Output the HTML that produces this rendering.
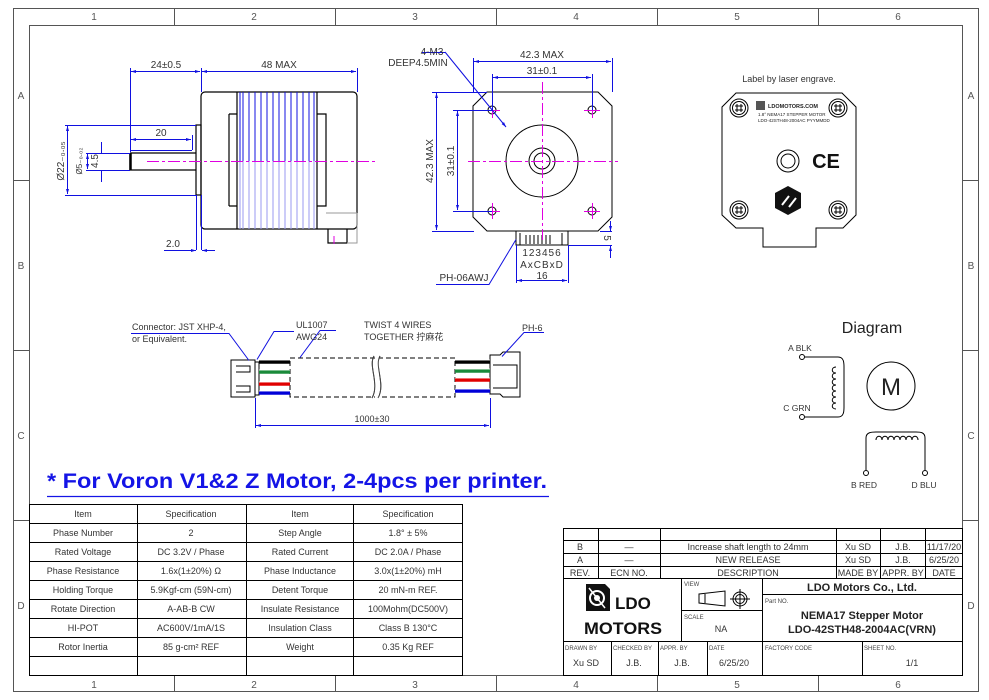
<!DOCTYPE html>
<html><head><meta charset="utf-8"><style>
html,body{margin:0;padding:0;background:#fff;}
svg{display:block;font-family:"Liberation Sans","Noto Sans CJK SC",sans-serif;}
</style></head><body>
<svg width="989" height="700" viewBox="0 0 989 700" xmlns="http://www.w3.org/2000/svg">
<defs>
<marker id="ar" viewBox="0 0 10 10" refX="10" refY="5" markerWidth="8" markerHeight="5" orient="auto-start-reverse"><path d="M0,2 L10,5 L0,8 z" fill="#1010e0"/></marker>
</defs>
<rect width="989" height="700" fill="#fff"/>
<!-- frame -->
<g fill="none" stroke="#555" stroke-width="1">
<rect x="13.5" y="8.5" width="965" height="683"/>
<rect x="29.5" y="25.5" width="933" height="650"/>
<path d="M174.5 8v17M335.5 8v17M496.5 8v17M657.5 8v17M818.5 8v17"/>
<path d="M174.5 676v16M335.5 676v16M496.5 676v16M657.5 676v16M818.5 676v16"/>
<path d="M13 180.5h16M13 350.5h16M13 520.5h16M963 180.5h16M963 350.5h16M963 520.5h16"/>
</g>
<g font-size="10" fill="#555" text-anchor="middle">
<text x="94" y="20">1</text><text x="254" y="20">2</text><text x="415" y="20">3</text><text x="576" y="20">4</text><text x="737" y="20">5</text><text x="898" y="20">6</text>
<text x="94" y="688">1</text><text x="254" y="688">2</text><text x="415" y="688">3</text><text x="576" y="688">4</text><text x="737" y="688">5</text><text x="898" y="688">6</text>
<text x="21" y="99">A</text><text x="21" y="269">B</text><text x="21" y="439">C</text><text x="21" y="609">D</text>
<text x="971" y="99">A</text><text x="971" y="269">B</text><text x="971" y="439">C</text><text x="971" y="609">D</text>
</g>

<!-- SIDE VIEW -->
<g fill="none" stroke="#000" stroke-width="1.2">
<rect x="201" y="92" width="156" height="137" rx="4"/>
<path d="M237 92v137M317 92v137M229 114h8M229 206h8M229 114v92M317 114h9v92h-9"/>
<rect x="196" y="125" width="5" height="70"/>
<path d="M130 153h66M130 170h66M130 153v17" />
<path d="M130.5 153v17" stroke-width="2.5"/>
<path d="M328 229v14h19v-14"/>
</g>
<path d="M326 213h31" stroke="#999" stroke-width="1"/>
<path d="M357 213v30h-10" stroke="#999" stroke-width="1" fill="none"/>
<g stroke="#1010e0" stroke-width="1">
<path d="M243 92v69M249 92v69M255 92v69M261 92v69M267 92v69M273 92v69M279 92v69M285 92v69M291 92v69M297 92v69M303 92v69M309 92v69M314 92v69M240 92v69"/>
</g>
<g stroke="#9a9af0" stroke-width="1">
<path d="M243 161v68M249 161v68M255 161v68M261 161v68M267 161v68M273 161v68M279 161v68M285 161v68M291 161v68M297 161v68M303 161v68M309 161v68M314 161v68M240 161v68"/>
</g>
<path d="M147 161.5h228" stroke="#e000e0" stroke-width="1" stroke-dasharray="12,3,3,3"/>
<path d="M334 236v8" stroke="#e000e0" stroke-width="1"/>
<!-- side dims -->
<g stroke="#1010e0" stroke-width="1" fill="none">
<path d="M130.5 68v84M201.5 68v24M357.5 68v24M201.5 195v55M196.5 195v55"/>
<path d="M131 71.5h69" marker-start="url(#ar)" marker-end="url(#ar)"/>
<path d="M202 71.5h154" marker-start="url(#ar)" marker-end="url(#ar)"/>
<path d="M131 139.5h60" marker-start="url(#ar)" marker-end="url(#ar)"/>
<path d="M192.5 135v15M130 150.5h62"/>
<path d="M65 125.5h131M65 195.5h131"/>
<path d="M67.5 126v68" marker-start="url(#ar)" marker-end="url(#ar)"/>
<path d="M86 153.5h44M86 170.5h44"/>
<path d="M87.5 154v15" marker-start="url(#ar)" marker-end="url(#ar)"/>
<path d="M101.5 142v11M101.5 170v12" />
<path d="M164 250.5h32" marker-end="url(#ar)"/>
<path d="M215 250.5h-13" marker-end="url(#ar)"/>
</g>
<g font-size="10" fill="#333" text-anchor="middle">
<text x="166" y="68">24±0.5</text>
<text x="279" y="68">48 MAX</text>
<text x="161" y="136">20</text>
<text x="173" y="247">2.0</text>
<text transform="translate(64,161) rotate(-90)">Ø22₋₀.₀₅</text>
<text transform="translate(82,161) rotate(-90)" font-size="8">Ø5₋₀.₀₂</text>
<text transform="translate(98,161) rotate(-90)">4.5</text>
</g>

<!-- FRONT VIEW -->
<g fill="none" stroke="#000" stroke-width="1">
<path d="M487 92h111l14 14v111l-14 14h-111l-14-14v-111z"/>
<circle cx="542" cy="161" r="36"/>
<circle cx="542" cy="161" r="13"/>
<circle cx="542" cy="161" r="8"/>
<circle cx="492" cy="110" r="4"/><circle cx="592" cy="110" r="4"/><circle cx="492" cy="211" r="4"/><circle cx="592" cy="211" r="4"/>
<rect x="516" y="231" width="52" height="14"/>
<path d="M520 233v12M526 235v9M530 235v9M534 235v9M538 235v9M542 235v9M546 235v9M550 235v9M562 233v12"/>
</g>
<g stroke="#e000e0" stroke-width="1">
<path d="M542.5 82v158" stroke-dasharray="12,3,3,3"/>
<path d="M468 161.5h150" stroke-dasharray="12,3,3,3"/>
<path d="M484 110.5h16M492.5 102v16M584 110.5h16M592.5 102v16M484 211.5h16M492.5 203v16M584 211.5h16M592.5 203v16"/>
</g>
<g stroke="#1010e0" stroke-width="1" fill="none">
<path d="M473.5 58v34M612.5 58v34M492.5 74v36M592.5 74v36"/>
<path d="M474 61.5h137" marker-start="url(#ar)" marker-end="url(#ar)"/>
<path d="M493 77.5h98" marker-start="url(#ar)" marker-end="url(#ar)"/>
<path d="M432 92.5h55M432 231.5h42M453 110.5h39M453 211.5h39"/>
<path d="M436.5 93v137" marker-start="url(#ar)" marker-end="url(#ar)"/>
<path d="M457.5 111v99" marker-start="url(#ar)" marker-end="url(#ar)"/>
<path d="M445 52l61 75" marker-end="url(#ar)"/>
<path d="M422 52.5h23"/>
<path d="M516.5 245v38M568.5 245v38"/>
<path d="M517 280.5h50" marker-start="url(#ar)" marker-end="url(#ar)"/>
<path d="M568 245.5h44M600 231.5h12"/>
<path d="M610.5 221v10" marker-end="url(#ar)"/>
<path d="M610.5 258v-12" marker-end="url(#ar)"/>
<path d="M436 284.5h53l27-45"/>
</g>
<g font-size="10" fill="#333" text-anchor="middle">
<text x="542" y="58">42.3 MAX</text>
<text x="542" y="74">31±0.1</text>
<text transform="translate(433,161) rotate(-90)">42.3 MAX</text>
<text transform="translate(454,161) rotate(-90)">31±0.1</text>
<text x="542" y="256" letter-spacing="1">123456</text>
<text x="542" y="268" letter-spacing="1">AxCBxD</text>
<text x="542" y="279">16</text>
<text transform="translate(604,238) rotate(90)">5</text>
<text x="432" y="55" text-anchor="middle">4-M3</text>
<text x="418" y="66" text-anchor="middle">DEEP4.5MIN</text>
<text x="464" y="281">PH-06AWJ</text>
</g>

<!-- LABEL VIEW -->
<text x="789" y="82" font-size="9" fill="#333" text-anchor="middle">Label by laser engrave.</text>
<g fill="none" stroke="#000" stroke-width="1">
<path d="M736 93h106l14 14v108l-13 13h-27v19h-53v-19h-27l-14-13v-108z"/>
<g id="scr"><circle cx="739" cy="108" r="9"/><circle cx="739" cy="108" r="6.5"/><path d="M735 106h8M735 110h8M737 104v8M741 104v8"/></g>
<use href="#scr" x="99"/><use href="#scr" y="102"/><use href="#scr" x="99" y="102"/>
<circle cx="788" cy="161" r="11"/><circle cx="788" cy="161" r="7"/>
</g>
<text x="826" y="168" font-size="20" font-weight="bold" text-anchor="middle" fill="#111">CE</text>
<path d="M788 186l13 7v15l-13 7l-13-7v-15z" fill="#111"/>
<path d="M782 205l7-9M789 207l7-9" stroke="#fff" stroke-width="2"/>
<rect x="756" y="101" width="9" height="9" fill="#555"/>
<text x="768" y="108" font-size="5.5" font-weight="bold" fill="#222">LDOMOTORS.COM</text>
<text x="758" y="116" font-size="4.5" fill="#222">1.8° NEMA17 STEPPER MOTOR</text>
<text x="758" y="122" font-size="4.5" fill="#222">LDO-42STH48-2004AC  PYYMMDD</text>

<!-- CABLE -->
<g fill="none" stroke="#000" stroke-width="1">
<rect x="231" y="360" width="24" height="37"/>
<path d="M236 366h14v6h-14M236 386h14v6h-14M255 362h4v33h-4"/>
<rect x="290" y="358" width="165" height="39" stroke-dasharray="5,3"/>
<path d="M374 356c-6 10 6 28 -2 42M380 356c-6 10 6 28 -2 42" stroke="#333"/>
<path d="M490 355h10l3 -3h17v45h-17l-3 -3h-10z"/>
<path d="M493 365h24v23h-24"/>
</g>
<rect x="375" y="354" width="4" height="46" fill="#fff"/>
<path d="M374 356c-6 10 6 28 -2 42M380 356c-6 10 6 28 -2 42" stroke="#444" fill="none"/>
<g stroke-width="3.5">
<path d="M259 362h31M455 362h35" stroke="#000"/>
<path d="M259 372h31M455 371h35" stroke="#1a8a3a"/>
<path d="M259 384h31M455 380h35" stroke="#e00000"/>
<path d="M259 393h31M455 391h35" stroke="#0000d8"/>
</g>
<g stroke="#fff" stroke-width="0.7"><path d="M259 360h31M259 370h31M259 382h31M259 391h31M455 360h35M455 369h35M455 378h35M455 389h35"/></g>
<g stroke="#1010e0" stroke-width="1" fill="none">
<path d="M255.5 398v30M490.5 398v30"/>
<path d="M256 425.5h233" marker-start="url(#ar)" marker-end="url(#ar)"/>
<path d="M131 333.5h98l20 27"/>
<path d="M294 331.5h-20l-17 28"/>
<path d="M336 330.5h-16l-20 27"/>
<path d="M544 332.5h-20l-22 24"/>
</g>
<g font-size="9" fill="#333">
<text x="132" y="330">Connector: JST XHP-4,</text>
<text x="132" y="342">or Equivalent.</text>
<text x="296" y="328">UL1007</text>
<text x="296" y="340">AWG24</text>
<text x="364" y="328">TWIST 4 WIRES</text>
<text x="364" y="340">TOGETHER 拧麻花</text>
<text x="522" y="331">PH-6</text>
<text x="372" y="422" text-anchor="middle">1000±30</text>
</g>

<!-- DIAGRAM -->
<text x="872" y="333" font-size="16" fill="#222" text-anchor="middle">Diagram</text>
<g fill="none" stroke="#000" stroke-width="1">
<circle cx="891" cy="386" r="24"/>
<circle cx="802" cy="357" r="2.5"/><circle cx="802" cy="417" r="2.5"/>
<circle cx="866" cy="473" r="2.5"/><circle cx="925" cy="473" r="2.5"/>
<path d="M805 357h33c6 0 6 6 6 10v40c0 4 0 10 -6 10h-33"/>
<path d="M836 367c-5 0 -5 6 0 6c-5 0 -5 6 0 6c-5 0 -5 6 0 6c-5 0 -5 6 0 6c-5 0 -5 6 0 6c-5 0 -5 6 0 6c-5 0 -5 6 0 6"/>
<path d="M866 470v-32c0 -6 6 -6 10 -6h40c4 0 9 0 9 6v32"/>
<path d="M876 440c0 -5 6 -5 6 0c0 -5 6 -5 6 0c0 -5 6 -5 6 0c0 -5 6 -5 6 0c0 -5 6 -5 6 0c0 -5 6 -5 6 0c0 -5 6 -5 6 0"/>
</g>
<text x="891" y="395" font-size="24" fill="#222" text-anchor="middle">M</text>
<g font-size="8.5" fill="#333" text-anchor="middle">
<text x="800" y="351">A BLK</text><text x="797" y="411">C GRN</text>
<text x="864" y="488">B RED</text><text x="924" y="488">D BLU</text>
</g>

<!-- BLUE NOTE -->
<text x="47" y="488" font-size="21" font-weight="bold" fill="#1414e6" textLength="500" lengthAdjust="spacingAndGlyphs">*  For Voron V1&amp;2 Z Motor, 2-4pcs per printer.</text>
<path d="M47 496.5h502" stroke="#1414e6" stroke-width="1.2"/>

<!-- SPEC TABLE -->
<g fill="none" stroke="#000" stroke-width="1">
<rect x="29.5" y="504.5" width="433" height="171"/>
<path d="M137.5 504v171M246.5 504v171M353.5 504v171"/>
<path d="M29 523.5h433M29 542.5h433M29 561.5h433M29 580.5h433M29 599.5h433M29 618.5h433M29 637.5h433M29 656.5h433"/>
</g>
<g font-size="9" fill="#333" text-anchor="middle">
<text x="83" y="517">Item</text><text x="191" y="517">Specification</text><text x="300" y="517">Item</text><text x="408" y="517">Specification</text>
<text x="83" y="536">Phase Number</text><text x="191" y="536">2</text><text x="300" y="536">Step Angle</text><text x="408" y="536">1.8° ± 5%</text>
<text x="83" y="555">Rated Voltage</text><text x="191" y="555">DC 3.2V / Phase</text><text x="300" y="555">Rated Current</text><text x="408" y="555">DC 2.0A / Phase</text>
<text x="83" y="574">Phase Resistance</text><text x="191" y="574">1.6x(1±20%) Ω</text><text x="300" y="574">Phase Inductance</text><text x="408" y="574">3.0x(1±20%) mH</text>
<text x="83" y="593">Holding Torque</text><text x="191" y="593">5.9Kgf-cm (59N-cm)</text><text x="300" y="593">Detent Torque</text><text x="408" y="593">20 mN-m REF.</text>
<text x="83" y="612">Rotate Direction</text><text x="191" y="612">A-AB-B CW</text><text x="300" y="612">Insulate Resistance</text><text x="408" y="612">100Mohm(DC500V)</text>
<text x="83" y="631">HI-POT</text><text x="191" y="631">AC600V/1mA/1S</text><text x="300" y="631">Insulation Class</text><text x="408" y="631">Class B 130°C</text>
<text x="83" y="650">Rotor Inertia</text><text x="191" y="650">85 g-cm² REF</text><text x="300" y="650">Weight</text><text x="408" y="650">0.35 Kg REF</text>
</g>

<!-- TITLE BLOCK -->
<g fill="none" stroke="#000" stroke-width="1">
<rect x="563.5" y="528.5" width="399" height="147"/>
<path d="M563 540.5h400M563 553.5h400M563 566.5h400M563 578.5h400"/>
<path d="M598.5 528v50M660.5 528v50M836.5 528v50M880.5 528v50M925.5 528v50"/>
<path d="M563 641.5h400M681.5 578v63M762.5 578v97M681 610.5h81M762 594.5h201"/>
<path d="M611.5 641v34M658.5 641v34M707.5 641v34M862.5 641v34"/>
<path d="M699 594l26 -3v15l-26 -3zM705 594v9"/>
<circle cx="740" cy="599" r="7"/><circle cx="740" cy="599" r="4.5"/><path d="M730 599h20M740 589v20"/>
</g>
<g font-size="9" fill="#333" text-anchor="middle">
<text x="580" y="550">B</text><text x="629" y="550">—</text><text x="748" y="550">Increase shaft length to 24mm</text><text x="858" y="550">Xu SD</text><text x="903" y="550">J.B.</text><text x="944" y="550">11/17/20</text>
<text x="580" y="563">A</text><text x="629" y="563">—</text><text x="748" y="563">NEW RELEASE</text><text x="858" y="563">Xu SD</text><text x="903" y="563">J.B.</text><text x="944" y="563">6/25/20</text>
<text x="580" y="576">REV.</text><text x="629" y="576">ECN NO.</text><text x="748" y="576">DESCRIPTION</text><text x="858" y="576">MADE BY</text><text x="903" y="576">APPR. BY</text><text x="944" y="576">DATE</text>
<text x="721" y="632">NA</text>
<text x="586" y="666">Xu SD</text><text x="634" y="666">J.B.</text><text x="682" y="666">J.B.</text><text x="734" y="666">6/25/20</text><text x="912" y="666">1/1</text>
</g>
<g font-size="6" fill="#444">
<text x="684" y="586">VIEW</text><text x="684" y="619">SCALE</text><text x="765" y="603">Part NO.</text>
<text x="565" y="650">DRAWN BY</text><text x="613" y="650">CHECKED BY</text><text x="660" y="650">APPR. BY</text><text x="709" y="650">DATE</text><text x="765" y="650">FACTORY CODE</text><text x="864" y="650">SHEET NO.</text>
</g>
<text x="862" y="591" font-size="11" font-weight="bold" fill="#222" text-anchor="middle">LDO Motors Co., Ltd.</text>
<text x="862" y="619" font-size="11" font-weight="bold" fill="#222" text-anchor="middle">NEMA17 Stepper Motor</text>
<text x="862" y="633" font-size="11" font-weight="bold" fill="#222" text-anchor="middle">LDO-42STH48-2004AC(VRN)</text>
<!-- logo -->
<path d="M586 584h19l5 5v22h-24z" fill="#111"/>
<circle cx="597" cy="598" r="7" fill="none" stroke="#fff" stroke-width="2"/>
<circle cx="597" cy="598" r="3" fill="#fff"/>
<path d="M589 588l16 20" stroke="#fff" stroke-width="1.5"/>
<text x="615" y="609" font-size="17" font-weight="bold" fill="#111">LDO</text>
<text x="623" y="634" font-size="17" font-weight="bold" fill="#111" text-anchor="middle" textLength="78" lengthAdjust="spacingAndGlyphs">MOTORS</text>
</svg>
</body></html>
